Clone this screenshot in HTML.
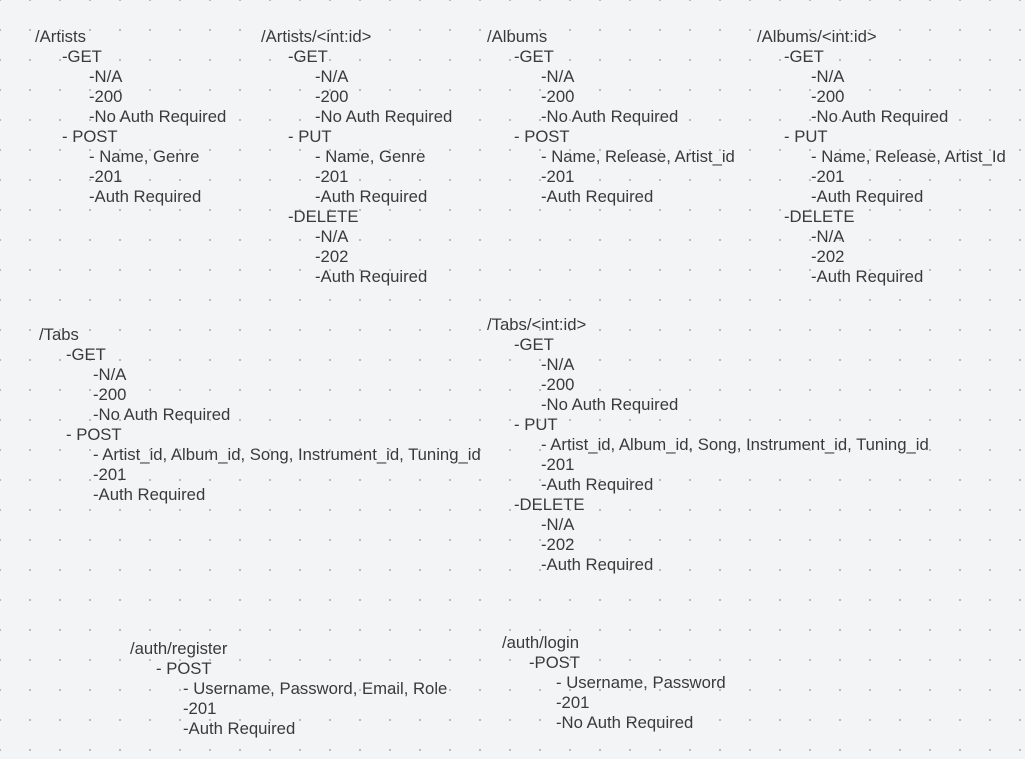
<!DOCTYPE html>
<html><head><meta charset="utf-8"><style>
html,body{margin:0;padding:0}
body{width:1025px;height:759px;overflow:hidden;background-color:#f3f4f6;
background-image:radial-gradient(circle,#b5b8bd 0.9px,transparent 1.3px);
background-size:30px 30px;background-position:-15px -15px;position:relative;
font-family:"Liberation Sans",sans-serif;font-size:16.7px;color:#3a3a3a}
pre{position:absolute;margin:0;font:inherit;line-height:20px;white-space:pre}
span{position:absolute;white-space:pre}
</style></head><body>
<pre style="left:35px;top:27px">/Artists
<span style="left:27px;top:20px">-GET</span><span style="left:54px;top:40px">-N/A</span><span style="left:54px;top:60px">-200</span><span style="left:54px;top:80px">-No Auth Required</span><span style="left:27px;top:100px">- POST</span><span style="left:54px;top:120px">- Name, Genre</span><span style="left:54px;top:140px">-201</span><span style="left:54px;top:160px">-Auth Required</span></pre>

<pre style="left:261px;top:27px">/Artists/&lt;int:id&gt;
<span style="left:27px;top:20px">-GET</span><span style="left:54px;top:40px">-N/A</span><span style="left:54px;top:60px">-200</span><span style="left:54px;top:80px">-No Auth Required</span><span style="left:27px;top:100px">- PUT</span><span style="left:54px;top:120px">- Name, Genre</span><span style="left:54px;top:140px">-201</span><span style="left:54px;top:160px">-Auth Required</span><span style="left:27px;top:180px">-DELETE</span><span style="left:54px;top:200px">-N/A</span><span style="left:54px;top:220px">-202</span><span style="left:54px;top:240px">-Auth Required</span></pre>

<pre style="left:487px;top:27px">/Albums
<span style="left:27px;top:20px">-GET</span><span style="left:54px;top:40px">-N/A</span><span style="left:54px;top:60px">-200</span><span style="left:54px;top:80px">-No Auth Required</span><span style="left:27px;top:100px">- POST</span><span style="left:54px;top:120px">- Name, Release, Artist_id</span><span style="left:54px;top:140px">-201</span><span style="left:54px;top:160px">-Auth Required</span></pre>

<pre style="left:757px;top:27px">/Albums/&lt;int:id&gt;
<span style="left:27px;top:20px">-GET</span><span style="left:54px;top:40px">-N/A</span><span style="left:54px;top:60px">-200</span><span style="left:54px;top:80px">-No Auth Required</span><span style="left:27px;top:100px">- PUT</span><span style="left:54px;top:120px">- Name, Release, Artist_Id</span><span style="left:54px;top:140px">-201</span><span style="left:54px;top:160px">-Auth Required</span><span style="left:27px;top:180px">-DELETE</span><span style="left:54px;top:200px">-N/A</span><span style="left:54px;top:220px">-202</span><span style="left:54px;top:240px">-Auth Required</span></pre>

<pre style="left:39px;top:325px">/Tabs
<span style="left:27px;top:20px">-GET</span><span style="left:54px;top:40px">-N/A</span><span style="left:54px;top:60px">-200</span><span style="left:54px;top:80px">-No Auth Required</span><span style="left:27px;top:100px">- POST</span><span style="left:54px;top:120px">- Artist_id, Album_id, Song, Instrument_id, Tuning_id</span><span style="left:54px;top:140px">-201</span><span style="left:54px;top:160px">-Auth Required</span></pre>

<pre style="left:487px;top:315px">/Tabs/&lt;int:id&gt;
<span style="left:27px;top:20px">-GET</span><span style="left:54px;top:40px">-N/A</span><span style="left:54px;top:60px">-200</span><span style="left:54px;top:80px">-No Auth Required</span><span style="left:27px;top:100px">- PUT</span><span style="left:54px;top:120px">- Artist_id, Album_id, Song, Instrument_id, Tuning_id</span><span style="left:54px;top:140px">-201</span><span style="left:54px;top:160px">-Auth Required</span><span style="left:27px;top:180px">-DELETE</span><span style="left:54px;top:200px">-N/A</span><span style="left:54px;top:220px">-202</span><span style="left:54px;top:240px">-Auth Required</span></pre>

<pre style="left:130px;top:639px">/auth/register
<span style="left:26px;top:20px">- POST</span><span style="left:53px;top:40px">- Username, Password, Email, Role</span><span style="left:53px;top:60px">-201</span><span style="left:53px;top:80px">-Auth Required</span></pre>

<pre style="left:502px;top:633px">/auth/login
<span style="left:27px;top:20px">-POST</span><span style="left:54px;top:40px">- Username, Password</span><span style="left:54px;top:60px">-201</span><span style="left:54px;top:80px">-No Auth Required</span></pre>
</body></html>
